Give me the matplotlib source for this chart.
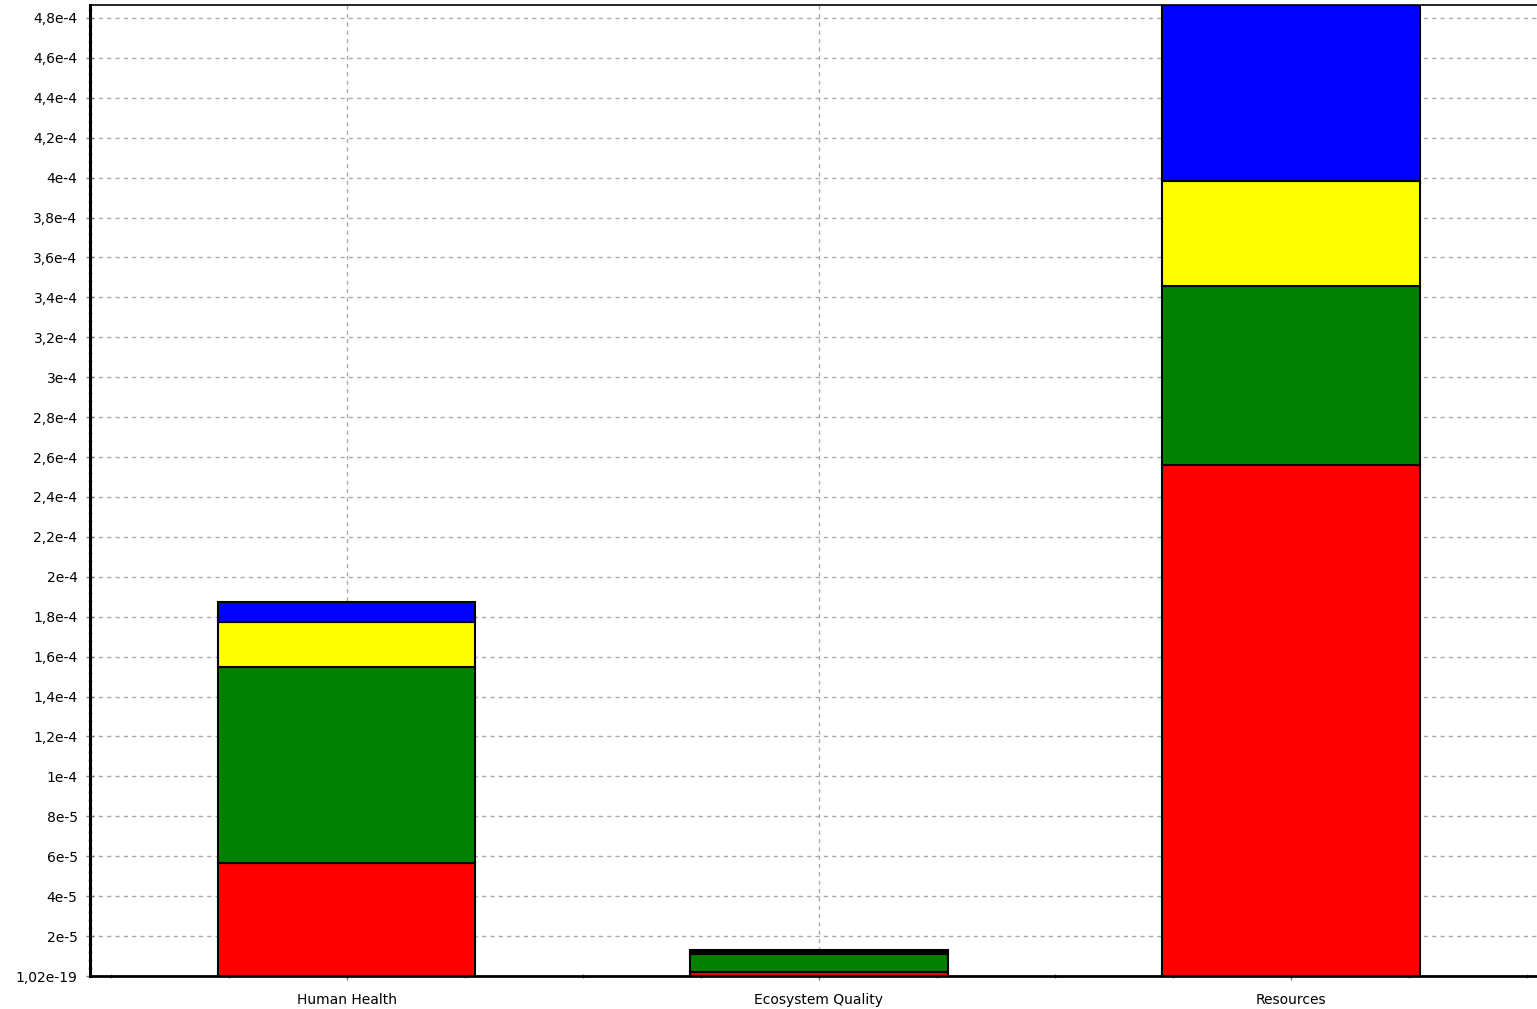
import matplotlib

matplotlib.use("Agg")
import matplotlib.pyplot as plt
import numpy as np
from matplotlib.ticker import FixedLocator, MultipleLocator, NullFormatter


CATEGORIES = ["Human Health", "Ecosystem Quality", "Resources"]
# stacked segments, bottom to top
RED = [5.66e-5, 0.2e-5, 2.56e-4]
GREEN = [9.82e-5, 0.9e-5, 0.897e-4]
YELLOW = [2.27e-5, 0.1e-5, 0.526e-4]
BLUE = [1.0e-5, 0.1e-5, 0.882e-4]
SEGMENT_COLORS = ["#ff0000", "#008000", "#ffff00", "#0000ff"]

Y_TICKS = [i * 2e-5 for i in range(25)]
Y_TICK_LABELS = ["1,02e-19"] + [
    f"{v:.1e}".replace(".0e", "e").replace(".", ",").replace("e-0", "e-") for v in Y_TICKS[1:]
]
Y_MAX = 4.865e-4

W, H = 1537, 1009
fig = plt.figure(figsize=(W / 100, H / 100), dpi=100)
ax = fig.add_axes([90 / W, 1 - 976 / H, 1 - 90 / W, (976 - 5) / H])

x = np.arange(len(CATEGORIES))
bottom = np.zeros(len(CATEGORIES))
for values, color in zip([RED, GREEN, YELLOW, BLUE], SEGMENT_COLORS):
    ax.bar(x, values, bottom=bottom, width=0.545, color=color,
           edgecolor="black", linewidth=1.5, zorder=3)
    bottom += np.array(values)

ax.set_xlim(-0.544, 2.521)
ax.set_ylim(0, Y_MAX)

ax.set_xticks(x)
ax.set_xticklabels(CATEGORIES, fontsize=10)
ax.xaxis.set_minor_locator(FixedLocator([c + d for c in x for d in (-0.5, -0.25, 0.25, 0.5)]))
ax.yaxis.set_major_locator(FixedLocator(Y_TICKS))
ax.yaxis.set_major_formatter(matplotlib.ticker.FixedFormatter(Y_TICK_LABELS))
ax.yaxis.set_minor_locator(MultipleLocator(4e-6))
ax.yaxis.set_minor_formatter(NullFormatter())
ax.tick_params(axis="y", labelsize=10, pad=6)
ax.tick_params(axis="x", pad=9)

ax.tick_params(which="major", direction="inout", length=6, width=1, color="#808080")
ax.tick_params(which="minor", direction="inout", length=3, width=1, color="#a0a0a0")

ax.grid(True, which="major", linestyle=(0, (3, 3)), color="#aaaaaa", linewidth=1, zorder=0)
ax.set_axisbelow(True)

ax.spines["left"].set_linewidth(2.2)
ax.spines["bottom"].set_linewidth(2.0)
ax.spines["top"].set_linewidth(1.2)
ax.spines["right"].set_visible(False)

fig.savefig("out.png", dpi=100)
